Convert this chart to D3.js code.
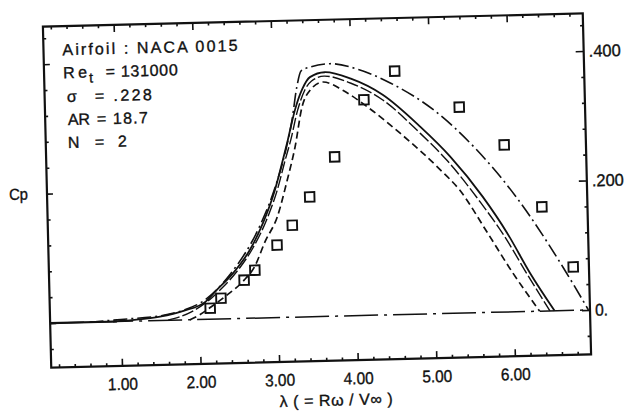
<!DOCTYPE html>
<html>
<head>
<meta charset="utf-8">
<script src="https://cdn.jsdelivr.net/npm/d3@7"></script>
<style>
body { margin: 0; background: #fff; }
svg { display: block; }
text { font-family: "Liberation Sans Narrow", "Liberation Sans", Arial, sans-serif; fill: #111; stroke: #111; stroke-width: 0.35px; }
</style>
</head>
<body>
<svg id="chart" width="625" height="416"></svg>
<script>
// measured points (squares)
let lambdaMeas = [2.14, 2.28, 2.58, 2.72, 3.01, 3.21, 3.44, 3.77, 4.16, 4.56, 5.37, 5.93, 6.39, 6.77]
let cpMeas = [0.017, 0.032, 0.059, 0.074, 0.112, 0.142, 0.185, 0.246, 0.333, 0.376, 0.318, 0.258, 0.161, 0.067]

// predicted curves
let solidLambda = [0.9, 1.2, 1.5, 1.8, 2.08, 2.23, 2.44, 2.66, 2.84, 3.0, 3.11, 3.18, 3.28, 3.38, 3.48, 3.67, 4.0, 4.4, 4.87, 5.24, 5.64, 5.94, 6.22, 6.52]
let solidCp = [0, 0.002, 0.006, 0.014, 0.027, 0.045, 0.070, 0.105, 0.147, 0.197, 0.243, 0.274, 0.320, 0.352, 0.370, 0.377, 0.366, 0.340, 0.289, 0.242, 0.179, 0.122, 0.059, 0]

let longDashLambda = [1.6, 1.9, 2.1, 2.3, 2.5, 2.7, 2.88, 3.03, 3.14, 3.22, 3.31, 3.41, 3.5, 3.66, 4.0, 4.4, 4.85, 5.2, 5.6, 5.9, 6.18, 6.46]
let longDashCp = [0, 0.012, 0.027, 0.048, 0.074, 0.108, 0.150, 0.197, 0.243, 0.275, 0.318, 0.350, 0.364, 0.371, 0.359, 0.332, 0.281, 0.236, 0.172, 0.118, 0.058, 0]

let dashLambda = [1.88, 2.0, 2.14, 2.35, 2.58, 2.72, 2.86, 3.02, 3.16, 3.27, 3.37, 3.48, 3.645, 3.9, 4.2, 4.61, 5.11, 5.35, 5.69, 6.0, 6.33]
let dashCp = [0, 0.007, 0.018, 0.036, 0.059, 0.080, 0.118, 0.155, 0.212, 0.263, 0.324, 0.350, 0.362, 0.348, 0.322, 0.280, 0.222, 0.190, 0.123, 0.060, 0]

let dashDotLambda = [0.6, 1.0, 1.5, 1.8, 2.05, 2.4, 2.8, 3.0, 3.15, 3.24, 3.31, 3.37, 3.5, 3.74, 4.1, 4.5, 5.04, 5.56, 6.05, 6.64, 6.95]
let dashDotCp = [0, 0.003, 0.007, 0.015, 0.028, 0.068, 0.143, 0.2, 0.258, 0.305, 0.355, 0.38, 0.386, 0.39, 0.38, 0.358, 0.315, 0.254, 0.18, 0.067, 0]

let xTicks = [1, 2, 3, 4, 5, 6]
let xTickLabels = ['1.00', '2.00', '3.00', '4.00', '5.00', '6.00']
let yTicks = [0, 0.2, 0.4]
let yTickLabels = ['0.', '.200', '.400']

let infoNames = ['σ', 'AR', 'N']
let infoValues = ['= .228', '= 18.7', '= 2']

let svg = d3.select('#chart')
// the scanned figure is slightly tilted
let g = svg.append('g').attr('transform', 'rotate(-1.4 317 190.5)')

let x = d3.scaleLinear().domain([0.1, 6.97]).range([47, 587])
let y = d3.scaleLinear().domain([-0.0686, 0.458]).range([361, 20])

let xMinor = d3.range(1, 35).filter(i => i % 5 !== 0).map(i => i * 0.2)
let yMinor = d3.range(-1, 12).filter(i => i % 5 !== 0).map(i => i * 0.04)

let clean = (sel) => {
    sel.select('.domain').remove()
    sel.attr('font-family', null).attr('font-size', null)
    sel.selectAll('line').attr('stroke', '#111').attr('stroke-width', 1.6)
}

// bottom
g.append('g').attr('transform', 'translate(0,' + y.range()[0] + ')')
    .call(d3.axisBottom(x).tickValues(xMinor).tickSize(-3).tickFormat(''))
    .call(clean)
let bottom = g.append('g').attr('transform', 'translate(0,' + y.range()[0] + ')')
    .call(d3.axisBottom(x).tickValues(xTicks).tickSize(-7).tickPadding(12)
        .tickFormat((d, i) => xTickLabels[i]))
    .call(clean)
bottom.selectAll('text').attr('font-size', 17).attr('fill', '#111')
    .attr('textLength', 30).attr('lengthAdjust', 'spacingAndGlyphs')

// top
g.append('g').attr('transform', 'translate(0,' + y.range()[1] + ')')
    .call(d3.axisTop(x).tickValues(xMinor).tickSize(-3).tickFormat(''))
    .call(clean)
g.append('g').attr('transform', 'translate(0,' + y.range()[1] + ')')
    .call(d3.axisTop(x).tickValues(xTicks).tickSize(-7).tickFormat(''))
    .call(clean)

// left
g.append('g').attr('transform', 'translate(' + x.range()[0] + ',0)')
    .call(d3.axisLeft(y).tickValues(yMinor).tickSize(-3).tickFormat(''))
    .call(clean)
g.append('g').attr('transform', 'translate(' + x.range()[0] + ',0)')
    .call(d3.axisLeft(y).tickValues(yTicks).tickSize(-6).tickFormat(''))
    .call(clean)

// right
g.append('g').attr('transform', 'translate(' + x.range()[1] + ',0)')
    .call(d3.axisRight(y).tickValues(yMinor).tickSize(-3).tickFormat(''))
    .call(clean)
let right = g.append('g').attr('transform', 'translate(' + x.range()[1] + ',0)')
    .call(d3.axisRight(y).tickValues(yTicks).tickSize(-8).tickPadding(5)
        .tickFormat((d, i) => yTickLabels[i]))
    .call(clean)
right.selectAll('text').attr('font-size', 17).attr('fill', '#111')
    .attr('textLength', (d, i) => yTickLabels[i].length > 2 ? 32 : 13)
    .attr('lengthAdjust', 'spacingAndGlyphs')

// frame
g.append('rect')
    .attr('x', x.range()[0]).attr('y', y.range()[1])
    .attr('width', x.range()[1] - x.range()[0])
    .attr('height', y.range()[0] - y.range()[1])
    .attr('fill', 'none').attr('stroke', '#111').attr('stroke-width', 2.2)

// zero line
g.append('line')
    .attr('x1', x(0.1)).attr('x2', x(6.97)).attr('y1', y(0)).attr('y2', y(0))
    .attr('stroke', '#111').attr('stroke-width', 1.5).attr('stroke-dasharray', '34,6,3,6')
g.append('line')
    .attr('x1', x(0.1)).attr('x2', x(0.95)).attr('y1', y(0)).attr('y2', y(0))
    .attr('stroke', '#111').attr('stroke-width', 2.2)

let line = d3.line().x(d => x(d[0])).y(d => y(d[1])).curve(d3.curveMonotoneX)

let curves = [
    { lam: dashDotLambda, cp: dashDotCp, dash: '14,4,2,4', w: 1.6 },
    { lam: solidLambda, cp: solidCp, dash: null, w: 1.8 },
    { lam: longDashLambda, cp: longDashCp, dash: '12,3', w: 1.4 },
    { lam: dashLambda, cp: dashCp, dash: '7,4', w: 1.7 }
]

g.selectAll('path.curve')
    .data(curves)
    .enter()
    .append('path')
    .attr('class', 'curve')
    .attr('d', c => line(c.lam.map((l, i) => [l, c.cp[i]])))
    .attr('fill', 'none')
    .attr('stroke', '#111')
    .attr('stroke-width', c => c.w)
    .attr('stroke-dasharray', c => c.dash)

// measured squares
g.selectAll('rect.meas')
    .data(lambdaMeas)
    .enter()
    .append('rect')
    .attr('class', 'meas')
    .attr('x', (d) => x(d) - 4.75)
    .attr('y', (d, i) => y(cpMeas[i]) - 4.75)
    .attr('width', 9.5)
    .attr('height', 9.5)
    .attr('fill', 'none')
    .attr('stroke', '#111')
    .attr('stroke-width', 1.9)

// info block
g.append('text').attr('x', 66).attr('y', 49).attr('font-size', 16)
    .attr('textLength', 175).attr('lengthAdjust', 'spacing')
    .text('Airfoil : NACA 0015')
g.append('text').attr('x', 66).attr('y', 72).attr('font-size', 16)
    .attr('textLength', 24).attr('lengthAdjust', 'spacing').text('Re')
g.append('text').attr('x', 92).attr('y', 77).attr('font-size', 14).text('t')
g.append('text').attr('x', 108.7).attr('y', 72).attr('font-size', 16)
    .attr('textLength', 72).attr('lengthAdjust', 'spacing').text('= 131000')

let infoX = [69.2, 69.6, 69]
let infoY = [96, 119, 142]
let infoValX = [97.2, 98.6, 96]
let infoValW = [57, 51, 32]
infoNames.forEach((n, i) => {
    g.append('text').attr('x', infoX[i]).attr('y', infoY[i]).attr('font-size', 16).text(n)
    g.append('text').attr('x', infoValX[i]).attr('y', infoY[i]).attr('font-size', 16)
        .attr('textLength', infoValW[i]).attr('lengthAdjust', 'spacing').text(infoValues[i])
})

// axis titles
g.append('text').attr('x', 9).attr('y', 192.5).attr('font-size', 16)
    .attr('textLength', 19).attr('lengthAdjust', 'spacingAndGlyphs').text('Cp')
g.append('text').attr('x', 331).attr('y', 406).attr('font-size', 16)
    .attr('text-anchor', 'middle')
    .attr('textLength', 113).attr('lengthAdjust', 'spacing')
    .text('λ ( = Rω / V∞ )')
</script>
</body>
</html>
